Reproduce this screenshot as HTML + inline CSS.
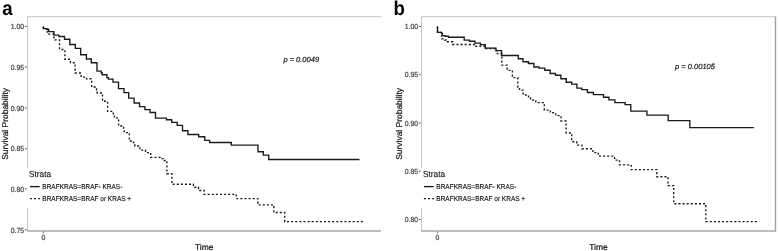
<!DOCTYPE html>
<html><head><meta charset="utf-8"><style>
html,body{margin:0;padding:0;background:#fff;width:778px;height:251px;overflow:hidden}
svg{display:block;will-change:transform;filter:blur(0.35px)}
text{font-family:"Liberation Sans",sans-serif;text-rendering:geometricPrecision}
.tk{font-size:6.85px;fill:#4a4a4a;stroke:#4a4a4a;stroke-width:0.22px}
.lt{font-size:8.3px;fill:#111;stroke:#111;stroke-width:0.12px}
.li{font-size:6.5px;fill:#1a1a1a;stroke:#1a1a1a;stroke-width:0.15px}
.pv{font-size:7.5px;font-style:italic;fill:#111;stroke:#111;stroke-width:0.18px}
.at{font-size:8.45px;fill:#111;stroke:#111;stroke-width:0.2px}
.pl{font-size:18.6px;font-weight:bold;fill:#000}
</style></head><body>
<svg width="778" height="251" viewBox="0 0 778 251">
<rect width="778" height="251" fill="#fff"/>
<path d="M27.5,230.9V16.7H381" fill="none" stroke="#c4c4c4" stroke-width="1"/>
<path d="M27.0,231H381" fill="none" stroke="#a8a8a8" stroke-width="1.4"/>
<path d="M24.8,26.4H26.9" stroke="#555" stroke-width="0.9"/>
<text transform="translate(24.0,29.0) scale(1,1.08)" class="tk" text-anchor="end">1.00</text>
<path d="M24.8,67.1H26.9" stroke="#555" stroke-width="0.9"/>
<text transform="translate(24.0,69.7) scale(1,1.08)" class="tk" text-anchor="end">0.95</text>
<path d="M24.8,108.0H26.9" stroke="#555" stroke-width="0.9"/>
<text transform="translate(24.0,110.6) scale(1,1.08)" class="tk" text-anchor="end">0.90</text>
<path d="M24.8,148.8H26.9" stroke="#555" stroke-width="0.9"/>
<text transform="translate(24.0,151.4) scale(1,1.08)" class="tk" text-anchor="end">0.85</text>
<path d="M24.8,188.9H26.9" stroke="#555" stroke-width="0.9"/>
<text transform="translate(24.0,191.5) scale(1,1.08)" class="tk" text-anchor="end">0.80</text>
<path d="M24.8,229.9H26.9" stroke="#555" stroke-width="0.9"/>
<text transform="translate(24.0,232.5) scale(1,1.08)" class="tk" text-anchor="end">0.75</text>
<path d="M43.4,231.5V233.3" stroke="#555" stroke-width="0.8"/>
<text transform="translate(43.4,240.3) scale(1,1.08)" class="tk" text-anchor="middle">0</text>
<path d="M43.4,26.5V28.55H46.6V29.25H48.7V31.55H53.9V35.05H58.9V36.45H64.5V39.25H69.8V44.45H75.3V48.35H80.7V54.75H86.4V58.95H91.3V62.75H97.0V71.05H101.2V72.75H102.2V74.75H106.9V77.55H108.4V79.05H113.0V82.05H118.5V88.55H124.0V92.55H128.7V98.15H134.1V102.95H139.5V106.55H144.9V109.55H150.1V112.45H155.5V118.15H166.4V119.75H171.7V122.35H177.2V125.35H182.5V130.75H187.9V134.45H198.7V136.75H204.8V140.35H209.6V142.45H231.3V145.15H258.0V151.75H263.3V155.05H268.7V159.45H359.5" fill="none" stroke="#1a1a1a" stroke-width="1.35"/>
<path d="M43.4,26.5V28.55H46.6V29.25H47.3V34.05H53.8V37.65H54.8V39.85H59.5V49.45H63.6V50.85H64.9V59.25H70.5V62.75H75.1V72.95H81.1V77.15H86.5V78.75H91.6V86.95H96.5V89.75H97.2V92.95H102.5V101.25H107.6V111.35H113.3V114.85H114.4V117.85H118.6V125.95H123.6V129.25H124.2V132.55H129.3V140.95H133.5V142.45H134.8V145.95H139.9V150.15H145.5V152.55H150.7V157.35H161.3V158.55H163.2V160.45H166.9V173.75H171.9V184.25H193.4V187.25H198.5V190.45H204.1V194.35H236.2V198.55H257.8V204.85H273.8V212.45H284.7V221.55H363.7" fill="none" stroke="#1a1a1a" stroke-width="1.35" stroke-dasharray="2.05 2.05"/>
<rect x="27.0" y="168.1" width="109" height="39.5" fill="#fff"/>
<text transform="translate(29,177.4) scale(1,1.05)" class="lt">Strata</text>
<path d="M29.9,186.6H39.7" stroke="#1a1a1a" stroke-width="1.35"/>
<path d="M29.9,198.6H39.9" stroke="#1a1a1a" stroke-width="1.35" stroke-dasharray="2.05 2.05"/>
<text transform="translate(42.3,189.1) scale(1,1.1)" class="li">BRAFKRAS=BRAF- KRAS-</text>
<text transform="translate(42.3,201.1) scale(1,1.1)" class="li">BRAFKRAS=BRAF or KRAS +</text>
<text x="283.4" y="61.75" class="pv">p = 0.0049</text>
<text x="204.25" y="249.8" class="at" text-anchor="middle">Time</text>
<text transform="translate(8.0,123.9) rotate(-90)" class="at" text-anchor="middle">Survival Probability</text>
<text transform="translate(2.3,14.85) scale(1,1.07)" class="pl">a</text>
<path d="M421.5,230.9V16.7H775.5" fill="none" stroke="#c4c4c4" stroke-width="1"/>
<path d="M421.0,231H775.5" fill="none" stroke="#a8a8a8" stroke-width="1.4"/>
<path d="M775.5,16.7V231.6" fill="none" stroke="#a0a0a0" stroke-width="1.4"/>
<path d="M418.8,26.5H420.9" stroke="#555" stroke-width="0.9"/>
<text transform="translate(418.0,29.1) scale(1,1.08)" class="tk" text-anchor="end">1.00</text>
<path d="M418.8,74.75H420.9" stroke="#555" stroke-width="0.9"/>
<text transform="translate(418.0,77.35) scale(1,1.08)" class="tk" text-anchor="end">0.95</text>
<path d="M418.8,123.0H420.9" stroke="#555" stroke-width="0.9"/>
<text transform="translate(418.0,125.6) scale(1,1.08)" class="tk" text-anchor="end">0.90</text>
<path d="M418.8,171.25H420.9" stroke="#555" stroke-width="0.9"/>
<text transform="translate(418.0,173.85) scale(1,1.08)" class="tk" text-anchor="end">0.85</text>
<path d="M418.8,219.5H420.9" stroke="#555" stroke-width="0.9"/>
<text transform="translate(418.0,222.1) scale(1,1.08)" class="tk" text-anchor="end">0.80</text>
<path d="M437.5,231.5V233.3" stroke="#555" stroke-width="0.8"/>
<text transform="translate(437.5,240.3) scale(1,1.08)" class="tk" text-anchor="middle">0</text>
<path d="M437.5,26.5V32.35H441.2V33.05H442.4V35.55H445.0V36.25H448.5V37.25H464.2V40.05H469.5V41.25H474.9V43.05H480.4V44.55H485.2V48.05H496.0V50.65H501.5V55.45H518.3V58.75H523.0V61.75H528.4V63.45H533.9V66.95H538.9V68.15H544.8V70.25H550.2V73.45H555.5V75.25H560.9V78.75H566.3V82.25H571.7V84.15H576.9V88.15H581.8V89.65H587.4V92.45H593.4V94.55H603.5V97.25H608.9V99.85H614.9V102.55H625.1V104.65H630.8V111.05H646.9V115.15H668.2V120.55H689.8V127.55H753.9" fill="none" stroke="#1a1a1a" stroke-width="1.35"/>
<path d="M437.5,26.5V32.35H441.2V33.05H441.6V38.85H444.6V39.95H447.3V41.75H452.5V44.45H475.0V46.25H485.0V48.45H496.3V50.75H497.3V53.65H501.8V65.15H507.1V70.35H512.4V77.65H517.8V87.75H519.5V90.15H523.1V94.95H528.5V97.95H530.5V100.05H533.5V100.85H535.8V102.65H544.3V110.15H550.3V112.75H555.8V115.65H561.0V120.95H566.1V132.95H571.7V141.75H576.8V145.05H582.0V148.75H592.9V152.55H598.3V156.15H614.6V160.05H619.5V164.85H630.2V165.55H631.3V169.55H656.8V176.75H668.0V185.55H673.7V203.75H705.8V221.65H758.6" fill="none" stroke="#1a1a1a" stroke-width="1.35" stroke-dasharray="2.05 2.05"/>
<rect x="421.0" y="168.1" width="109" height="39.5" fill="#fff"/>
<text transform="translate(423,177.4) scale(1,1.05)" class="lt">Strata</text>
<path d="M423.9,186.6H433.7" stroke="#1a1a1a" stroke-width="1.35"/>
<path d="M423.9,198.6H433.9" stroke="#1a1a1a" stroke-width="1.35" stroke-dasharray="2.05 2.05"/>
<text transform="translate(436.3,189.1) scale(1,1.1)" class="li">BRAFKRAS=BRAF- KRAS-</text>
<text transform="translate(436.3,201.1) scale(1,1.1)" class="li">BRAFKRAS=BRAF or KRAS +</text>
<text x="675.1" y="68.55000000000001" class="pv">p = 0.00105</text>
<text x="598.5" y="249.8" class="at" text-anchor="middle">Time</text>
<text transform="translate(402.0,123.9) rotate(-90)" class="at" text-anchor="middle">Survival Probability</text>
<text transform="translate(393.5,14.85) scale(1,1.07)" class="pl">b</text>
</svg>
</body></html>
